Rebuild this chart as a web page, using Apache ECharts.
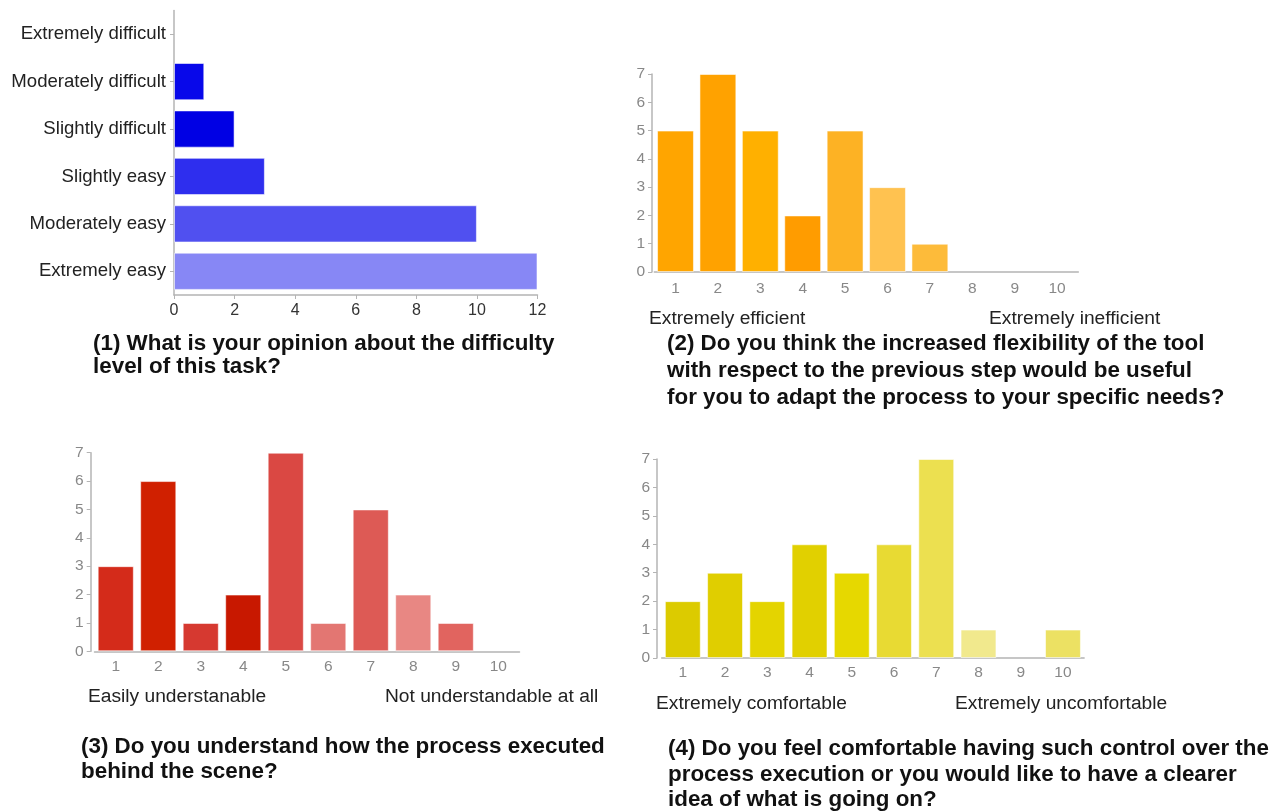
<!DOCTYPE html>
<html>
<head>
<meta charset="utf-8">
<script src="https://cdn.jsdelivr.net/npm/echarts@6/dist/echarts.min.js"></script>
<style>
  html, body { margin: 0; padding: 0; background: #ffffff; }
  #chart { width: 1284px; height: 812px; }
</style>
</head>
<body>
<div id="chart"></div>
<script>
// ---------- data ----------
const q1Categories = ['Extremely difficult', 'Moderately difficult', 'Slightly difficult', 'Slightly easy', 'Moderately easy', 'Extremely easy'];
const q1Values = [0, 1, 2, 3, 10, 12];
const q1Ticks = [0, 2, 4, 6, 8, 10, 12];

const scaleCategories = ['1', '2', '3', '4', '5', '6', '7', '8', '9', '10'];
const q2Values = [5, 7, 5, 2, 5, 3, 1, 0, 0, 0];
const q3Values = [3, 6, 1, 2, 7, 1, 5, 2, 1, 0];
const q4Values = [2, 3, 2, 4, 3, 4, 7, 1, 0, 1];

const q1Title = ['(1) What is your opinion about the difficulty', 'level of this task?'];
const q2Title = ['(2) Do you think the increased flexibility of the tool', 'with respect to the previous step would be useful', 'for you to adapt the process to your specific needs?'];
const q3Title = ['(3) Do you understand how the process executed', 'behind the scene?'];
const q4Title = ['(4) Do you feel comfortable having such control over the', 'process execution or you would like to have a clearer', 'idea of what is going on?'];

const q2Ends = ['Extremely efficient', 'Extremely inefficient'];
const q3Ends = ['Easily understanable', 'Not understandable at all'];
const q4Ends = ['Extremely comfortable', 'Extremely uncomfortable'];

// ---------- styles ----------
const q1Colors = ['#ffffff', '#0808ea', '#0000e4', '#2e2eee', '#5050f0', '#8787f5'];
const q2Colors = ['#ffa500', '#ffa200', '#ffb000', '#ff9c00', '#fdb224', '#ffc250', '#fdbb3a', '#fdbb3a', '#fdbb3a', '#fdbb3a'];
const q3Colors = ['#d42b1a', '#d02000', '#d63930', '#c81800', '#da4843', '#e37672', '#dd5a55', '#e88783', '#e1645f', '#e1645f'];
const q4Colors = ['#dccb00', '#e0ce00', '#e4d400', '#e1d000', '#e6d800', '#e8da33', '#ece050', '#f1e98d', '#ece163', '#ece163'];

const FONT = '"Liberation Sans", Arial, Helvetica, sans-serif';
const AXIS_COLOR = '#b4b4b4';

function barData(values, colors) {
  return values.map((v, i) => ({
    value: v,
    itemStyle: {
      color: colors[i],
      borderColor: 'rgba(255,255,255,0.55)',
      borderWidth: v === 0 ? 0 : 1,
      opacity: v === 0 ? 0 : 1
    }
  }));
}

function textLines(lines, x, y0, lh, font, fill) {
  return lines.map((t, i) => ({
    type: 'text', x: x, y: y0 + i * lh,
    style: { text: t, font: font, fill: fill, verticalAlign: 'middle', align: 'left' }
  }));
}

function scaleXAxis(gridIndex, margin) {
  return {
    type: 'category', gridIndex: gridIndex, data: scaleCategories,
    axisLine: { lineStyle: { color: AXIS_COLOR, width: 1.5 } },
    axisTick: { alignWithLabel: true, length: 5, lineStyle: { color: AXIS_COLOR } },
    axisLabel: { color: '#888', fontSize: 15.5, fontFamily: FONT, margin: margin },
    splitLine: { show: false }
  };
}
function scaleYAxis(gridIndex, offset) {
  return {
    type: 'value', gridIndex: gridIndex, min: 0, max: 7, interval: 1, offset: offset,
    axisLine: { show: true, lineStyle: { color: AXIS_COLOR, width: 1.5 } },
    axisTick: { show: true, length: 4, lineStyle: { color: AXIS_COLOR } },
    axisLabel: { color: '#888', fontSize: 15.5, fontFamily: FONT, margin: 7 },
    splitLine: { show: false }
  };
}

const chart = echarts.init(document.getElementById('chart'), null, { renderer: 'canvas' });

const endFont = '19.2px ' + FONT;
const titleFont = 'bold 22.4px ' + FONT;

const option = {
  backgroundColor: '#ffffff',
  animation: false,
  grid: [
    { left: 174, top: 10.5, width: 363.5, height: 284.5 },
    { left: 654.3, top: 74, width: 424, height: 198 },
    { left: 94.5, top: 452.7, width: 425, height: 198.6 },
    { left: 661.7, top: 459, width: 422.4, height: 199 }
  ],
  xAxis: [
    {
      type: 'value', gridIndex: 0, min: 0, max: 12, interval: 2,
      axisLine: { show: true, lineStyle: { color: AXIS_COLOR, width: 1.5 } },
      axisTick: { show: true, length: 4, lineStyle: { color: AXIS_COLOR } },
      axisLabel: { color: '#333', fontSize: 16, fontFamily: FONT, margin: 8,
        formatter: v => (q1Ticks.indexOf(v) >= 0 ? String(v) : '') },
      splitLine: { show: false }
    },
    scaleXAxis(1, 9),
    scaleXAxis(2, 7),
    scaleXAxis(3, 7)
  ],
  yAxis: [
    {
      type: 'category', gridIndex: 0, data: q1Categories, inverse: true,
      axisLine: { show: true, lineStyle: { color: AXIS_COLOR, width: 1.5 } },
      axisTick: { show: true, alignWithLabel: true, length: 4, lineStyle: { color: AXIS_COLOR } },
      axisLabel: { color: '#222', fontSize: 18.6, fontFamily: FONT, margin: 8 },
      splitLine: { show: false }
    },
    scaleYAxis(1, 2.3),
    scaleYAxis(2, 3.8),
    scaleYAxis(3, 4.7)
  ],
  series: [
    { type: 'bar', xAxisIndex: 0, yAxisIndex: 0, barCategoryGap: '21.5%', data: barData(q1Values, q1Colors) },
    { type: 'bar', xAxisIndex: 1, yAxisIndex: 1, barCategoryGap: '13%', data: barData(q2Values, q2Colors) },
    { type: 'bar', xAxisIndex: 2, yAxisIndex: 2, barCategoryGap: '15%', data: barData(q3Values, q3Colors) },
    { type: 'bar', xAxisIndex: 3, yAxisIndex: 3, barCategoryGap: '15%', data: barData(q4Values, q4Colors) }
  ],
  graphic: [].concat(
    textLines(q1Title, 93, 344, 23, titleFont, '#111'),
    textLines(q2Title, 667, 344, 27, titleFont, '#111'),
    textLines(q3Title, 81, 747, 25, titleFont, '#111'),
    textLines(q4Title, 668, 749, 25.5, titleFont, '#111'),
    textLines([q2Ends[0]], 649, 319, 0, endFont, '#222'),
    textLines([q2Ends[1]], 989, 319, 0, endFont, '#222'),
    textLines([q3Ends[0]], 88, 697, 0, endFont, '#222'),
    textLines([q3Ends[1]], 385, 697, 0, endFont, '#222'),
    textLines([q4Ends[0]], 656, 704, 0, endFont, '#222'),
    textLines([q4Ends[1]], 955, 704, 0, endFont, '#222')
  )
};

chart.setOption(option);
</script>
</body>
</html>
